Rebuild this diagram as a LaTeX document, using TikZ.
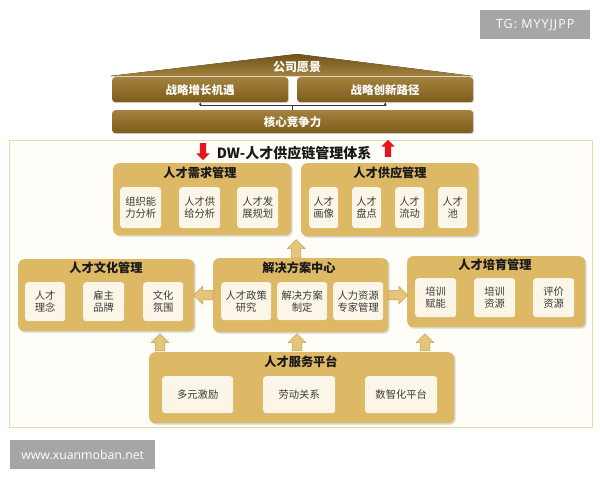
\documentclass[tikz,border=0pt]{standalone}
\usepackage{fontspec}
\setmainfont{Noto Sans CJK SC}
\newfontfamily\wmfont{Open Sans}
\usetikzlibrary{shapes.arrows,shadows,calc,arrows.meta}
\definecolor{gold}{HTML}{DDB865}
\definecolor{cream}{HTML}{FCF6E8}
\definecolor{framec}{HTML}{E8D8A4}
\definecolor{framefill}{HTML}{FFFDF7}
\definecolor{brownA}{HTML}{A3823D}
\definecolor{brownB}{HTML}{7C5C1B}
\definecolor{arrfill}{HTML}{E5C57C}
\definecolor{arredge}{HTML}{C7A14E}
\definecolor{redarr}{HTML}{E8141B}
\definecolor{wm}{HTML}{A6A6A6}
\definecolor{subtxt}{HTML}{3A3A3A}
\begin{document}
\begin{tikzpicture}[x=1pt,y=-1pt,
  goldbox/.style={fill=gold, rounded corners=6pt, anchor=north west, inner sep=0pt,
    drop shadow={shadow xshift=1.5pt, shadow yshift=-1.5pt, opacity=0.3}},
  subbox/.style={fill=cream, rounded corners=3pt, anchor=north west, inner sep=0pt,
    align=center, text=subtxt, font=\fontsize{10.3}{12}\selectfont},
  brownbox/.style={top color=brownA, bottom color=brownB, rounded corners=3pt,
    anchor=north west, inner sep=0pt, text=white, font=\fontsize{11.5}{13}\selectfont\bfseries,
    drop shadow={shadow xshift=1pt, shadow yshift=-1pt, opacity=0.3}},
  ttl/.style={font=\fontsize{12.2}{14}\selectfont\bfseries, text=black!90, inner sep=0pt},
  fat/.style={single arrow, fill=arrfill, draw=arredge, line width=0.5pt, inner sep=4.5pt,
    minimum width=0pt, single arrow head extend=4pt, single arrow head indent=0pt,
    minimum height=#1},
  redfat/.style={single arrow, fill=redarr, draw=none, inner sep=3pt,
    minimum width=0pt, single arrow head extend=3.5pt, single arrow head indent=0pt,
    minimum height=17pt},
  wmbox/.style={fill=wm, text=white, inner sep=0pt, anchor=north west},
  conn/.style={draw=black!80, line width=0.6pt}
]
\fill[white] (0,0) rectangle (600,480);
\useasboundingbox (0,0) rectangle (600,480);

% watermark boxes
\node[wmbox, minimum width=110pt, minimum height=29pt,
  font=\wmfont\fontsize{12.5}{14}\selectfont\addfontfeature{LetterSpace=8}] (tg) at (480,10) {TG: MYYJJPP};
\node[wmbox, minimum width=145pt, minimum height=29pt,
  font=\wmfont\fontsize{12.3}{14}\selectfont] (web) at (10,440) {www.xuanmoban.net};

% roof
\fill[top color=brownB!90!black, bottom color=brownA] (110,76) -- (297,54) -- (473,76) -- cycle;
\node[text=white, font=\fontsize{12}{14}\selectfont\bfseries, inner sep=0pt] (vision) at (297,67) {公司愿景};

% strategy + core
\node[brownbox, minimum width=176pt, minimum height=25pt] (sg) at (112,77) {战略增长机遇};
\node[brownbox, minimum width=176pt, minimum height=25pt] (si) at (297,77) {战略创新路径};
\node[brownbox, minimum width=361pt, minimum height=23pt] (core) at (112,110) {核心竞争力};
\coordinate (cj) at ($(core.north)+(0,-5)$);
\draw[conn] (core.north) -- (cj);
\draw[conn, -{Stealth[length=3pt,width=3pt]}] (cj) -| (sg.south);
\draw[conn, -{Stealth[length=3pt,width=3pt]}] (cj) -| (si.south);

% frame
\node[draw=framec, fill=framefill, line width=1pt, minimum width=583pt, minimum height=287pt,
  anchor=north west, inner sep=0pt] (frame) at (9,140) {};

% title + red arrows
\node[font=\fontsize{14}{16}\selectfont\bfseries, text=black!90, inner sep=0pt] (sys) at (294,153) {DW-人才供应链管理体系};
\node[redfat, rotate=-90] (rd) at (203,150) {};
\node[redfat, rotate=90] (ru) at (388,150) {};

% demand
\node[goldbox, minimum width=178pt, minimum height=72pt] (dem) at (113,163) {};
\node[ttl] (demt) at (200,173) {人才需求管理};
\node[subbox, minimum width=41pt, minimum height=41pt] (d1) at (120,187) {组织能\\力分析};
\node[subbox, minimum width=41pt, minimum height=41pt] (d2) at (179,187) {人才供\\给分析};
\node[subbox, minimum width=41pt, minimum height=41pt] (d3) at (237,187) {人才发\\展规划};

% supply
\node[goldbox, minimum width=177pt, minimum height=73pt] (sup) at (301,163) {};
\node[ttl] (supt) at (390,173) {人才供应管理};
\node[subbox, minimum width=29pt, minimum height=41pt] (s1) at (309,187) {人才\\画像};
\node[subbox, minimum width=29pt, minimum height=41pt] (s2) at (352,187) {人才\\盘点};
\node[subbox, minimum width=29pt, minimum height=41pt] (s3) at (395,187) {人才\\流动};
\node[subbox, minimum width=29pt, minimum height=41pt] (s4) at (438,187) {人才\\池};

% culture
\node[goldbox, minimum width=176pt, minimum height=72pt] (cul) at (18,259) {};
\node[ttl] (cult) at (106,268) {人才文化管理};
\node[subbox, minimum width=40pt, minimum height=39pt] (c1) at (25,282) {人才\\理念};
\node[subbox, minimum width=41pt, minimum height=39pt] (c2) at (83,282) {雇主\\品牌};
\node[subbox, minimum width=40pt, minimum height=39pt] (c3) at (143,282) {文化\\氛围};

% solution
\node[goldbox, minimum width=175pt, minimum height=74pt] (sol) at (213,258) {};
\node[ttl] (solt) at (299,268) {解决方案中心};
\node[subbox, minimum width=50pt, minimum height=38pt] (o1) at (221,282) {人才政策\\研究};
\node[subbox, minimum width=50pt, minimum height=38pt] (o2) at (277,282) {解决方案\\制定};
\node[subbox, minimum width=50pt, minimum height=38pt] (o3) at (333,282) {人力资源\\专家管理};

% cultivation
\node[goldbox, minimum width=178pt, minimum height=71pt] (cv) at (407,256) {};
\node[ttl] (cvt) at (495,265) {人才培育管理};
\node[subbox, minimum width=41pt, minimum height=39pt] (v1) at (415,278) {培训\\赋能};
\node[subbox, minimum width=41pt, minimum height=39pt] (v2) at (474,278) {培训\\资源};
\node[subbox, minimum width=41pt, minimum height=39pt] (v3) at (533,278) {评价\\资源};

% service
\node[goldbox, minimum width=305pt, minimum height=71pt] (svc) at (149,352) {};
\node[ttl] (svct) at (301,362) {人才服务平台};
\node[subbox, minimum width=71pt, minimum height=37pt] (p1) at (162,376) {多元激励};
\node[subbox, minimum width=72pt, minimum height=37pt] (p2) at (263,376) {劳动关系};
\node[subbox, minimum width=72pt, minimum height=37pt] (p3) at (365,376) {数智化平台};

% fat arrows
\node[fat=18pt, rotate=90, anchor=tail] (aup) at ($(sol.north)+(-4.5,0)$) {};
\node[fat=19pt, rotate=180, anchor=tail] (al) at (sol.west) {};
\node[fat=19pt, anchor=tail] (ar) at (sol.east) {};
\node[fat=17pt, rotate=90, anchor=tail] (b1) at (160,351) {};
\node[fat=17pt, rotate=90, anchor=tail] (b2) at (297,351) {};
\node[fat=17pt, rotate=90, anchor=tail] (b3) at (425,351) {};
\end{tikzpicture}
\end{document}
